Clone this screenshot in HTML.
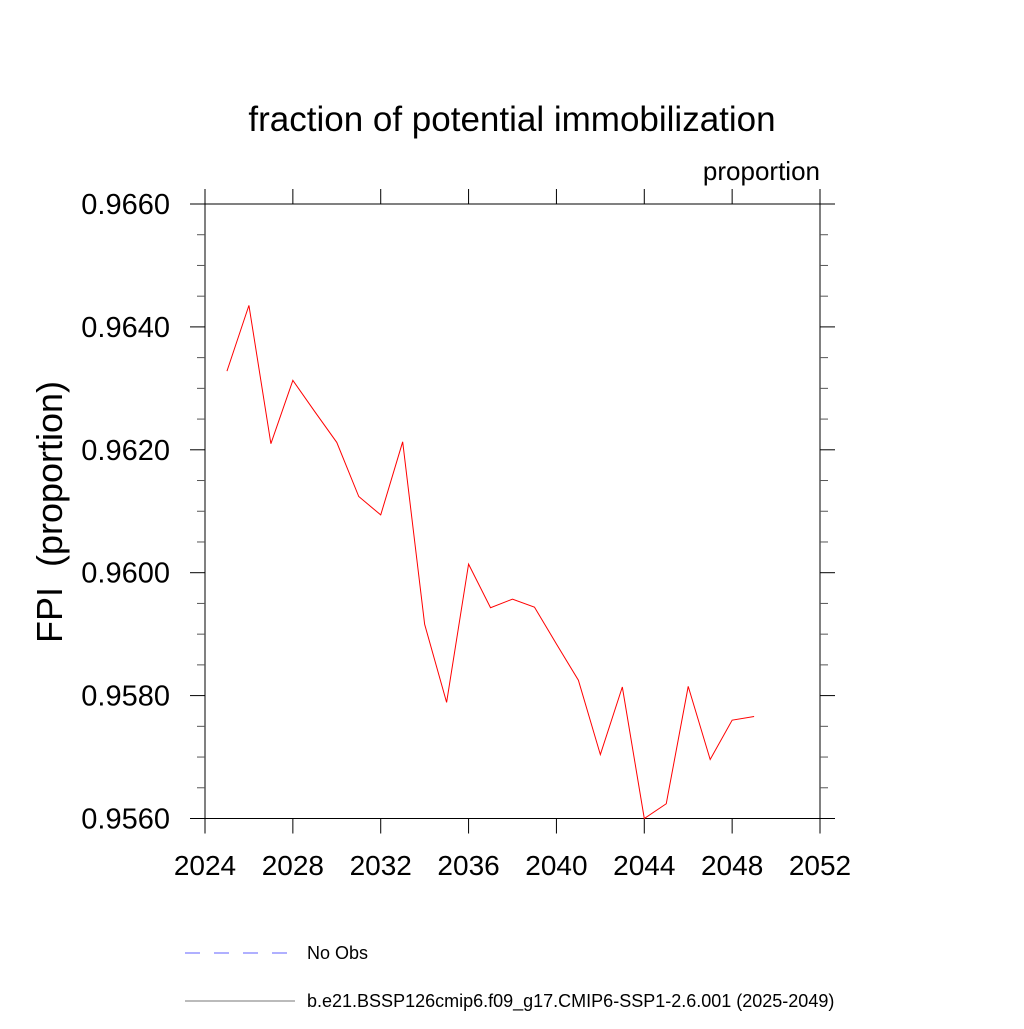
<!DOCTYPE html>
<html><head><meta charset="utf-8"><style>
html,body{margin:0;padding:0;background:#fff;}
svg text{font-family:"Liberation Sans",sans-serif;}
</style></head><body>
<svg id="chart" width="1024" height="1024" xmlns="http://www.w3.org/2000/svg">
<text x="512" y="131" font-size="35" text-anchor="middle">fraction of potential immobilization</text>
<text x="820" y="180" font-size="26" text-anchor="end">proportion</text>
<text transform="translate(62,512) rotate(-90)" font-size="36" text-anchor="middle">FPI&#160; (proportion)</text>
<g id="axes"></g>
<g id="series"></g>
<g>
<line x1="185" y1="953" x2="295" y2="953" stroke="#6060ff" stroke-width="1" stroke-dasharray="15,14"/>
<text x="307" y="959" font-size="18">No Obs</text>
<line x1="185" y1="1001" x2="295" y2="1001" stroke="#777" stroke-width="1"/>
<text x="307" y="1007" font-size="18">b.e21.BSSP126cmip6.f09_g17.CMIP6-SSP1-2.6.001 (2025-2049)</text>
</g>
</svg>
<script>
const years=[2025,2026,2027,2028,2029,2030,2031,2032,2033,2034,2035,2036,2037,2038,2039,2040,2041,2042,2043,2044,2045,2046,2047,2048,2049];
const values=[0.96328,0.96435,0.9621,0.96313,0.96262,0.96212,0.96124,0.96094,0.96213,0.95916,0.95789,0.96014,0.95943,0.95957,0.95944,0.95884,0.95825,0.95704,0.95814,0.9560,0.95624,0.95815,0.95696,0.9576,0.95766];
const xTicks=[2024,2028,2032,2036,2040,2044,2048,2052];
const yTicks=[0.956,0.958,0.960,0.962,0.964,0.966];
const yTickLabels=["0.9560","0.9580","0.9600","0.9620","0.9640","0.9660"];
const L=205,R=820,T=204,B=818.5;
const xs=v=>L+(v-2024)/28*(R-L);
const ys=v=>B-(v-0.956)/0.01*(B-T);
const NS="http://www.w3.org/2000/svg";
const axes=document.getElementById('axes');
function mk(tag,attrs,parent){const e=document.createElementNS(NS,tag);for(const k in attrs)e.setAttribute(k,attrs[k]);parent.appendChild(e);return e;}
const frame=mk('rect',{x:L,y:T,width:R-L,height:B-T,fill:'none',stroke:'#000','stroke-width':1},axes);


xTicks.forEach(v=>{
 const x=xs(v);
 const t1=mk('line',{x1:x,y1:B,x2:x,y2:B+15,stroke:'#000'},axes);
 
 
 const t2=mk('line',{x1:x,y1:T,x2:x,y2:T-15,stroke:'#000'},axes);
 
 
 const tx=mk('text',{x:x,y:875,'font-size':28,'text-anchor':'middle'},axes);
 tx.textContent=v;
 
 
});
for(let i=0;i<=20;i++){
 const v=0.956+i*0.0005;const y=ys(v);const major=i%4===0;const len=major?15:8;
 const a=mk('line',{x1:L-len,y1:y,x2:L,y2:y,stroke:major?'#000':'#555'},axes);
 
 
 const b=mk('line',{x1:R,y1:y,x2:R+len,y2:y,stroke:major?'#000':'#555'},axes);
 
 
}
yTicks.forEach((v,i)=>{
 const tx=mk('text',{x:170,y:ys(v)+10,'font-size':29,'text-anchor':'end'},axes);
 tx.textContent=yTickLabels[i];
 
 
});
const pts=years.map((y,i)=>xs(y)+','+ys(values[i])).join(' ');
const pl=mk('polyline',{points:pts,fill:'none',stroke:'#ff0000','stroke-width':1},document.getElementById('series'));


</script>
</body></html>
